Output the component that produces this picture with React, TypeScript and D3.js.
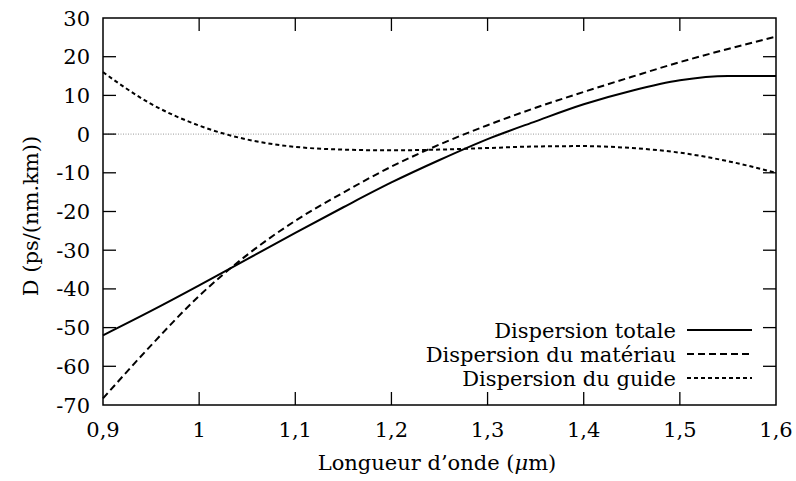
import React from "react";
import * as d3 from "d3";

const wavelengths = [0.9, 0.95, 1.0, 1.05, 1.1, 1.15, 1.2, 1.25, 1.3, 1.35, 1.4, 1.45, 1.5, 1.55, 1.6];
const totalDisp = [-52, -45.7, -39.1, -32.3, -25.5, -18.9, -12.5, -6.7, -1.3, 3.3, 7.7, 11.2, 13.9, 15, 15];
const materialDisp = [-68.3, -54.6, -41.8, -31.2, -22.4, -15.1, -8.4, -2.7, 2.3, 6.8, 10.9, 14.8, 18.6, 22, 25.2];
const guideDisp = [16, 7.8, 2.2, -1.4, -3.3, -4.0, -4.2, -4.0, -3.6, -3.2, -3.1, -3.6, -4.8, -7.0, -10];

const xTicks = [0.9, 1.0, 1.1, 1.2, 1.3, 1.4, 1.5, 1.6];
const yTicks = [30, 20, 10, 0, -10, -20, -30, -40, -50, -60, -70];
const seriesNames = ["Dispersion totale", "Dispersion du matériau", "Dispersion du guide"];

const W = 796, H = 481;
const L = 103, R = 776, T = 18, B = 405;
const FONT = "DejaVu Serif";

export default function App() {
  const x = d3.scaleLinear().domain([0.9, 1.6]).range([L, R]);
  const y = d3.scaleLinear().domain([-70, 30]).range([B, T]);
  const line = d3
    .line<number>()
    .x((_, i) => x(wavelengths[i]))
    .y((v) => y(v))
    .curve(d3.curveMonotoneX);
  const series = [
    { data: totalDisp, dash: "none" },
    { data: materialDisp, dash: "7,4" },
    { data: guideDisp, dash: "4,3" },
  ];
  const fmt = (v: number) => (Number.isInteger(v) ? String(v) : v.toFixed(1).replace(".", ","));
  const tick = 13;
  const fs = 21;
  return (
    <svg width={W} height={H} style={{ position: "absolute", left: 0, top: 0, background: "#fff" }}>
      <rect x={0} y={0} width={W} height={H} fill="#fff" />
      <line x1={L} x2={R} y1={y(0)} y2={y(0)} stroke="#999" strokeWidth={1} strokeDasharray="1,1.5" />
      {yTicks.map((v) => (
        <g key={"y" + v}>
          {v !== 30 && v !== -70 && (
            <>
              <line x1={L} x2={L + tick} y1={y(v)} y2={y(v)} stroke="#000" strokeWidth={1.3} />
              <line x1={R} x2={R - tick} y1={y(v)} y2={y(v)} stroke="#000" strokeWidth={1.3} />
            </>
          )}
          <text x={90} y={y(v) + 7.5} textAnchor="end" fontFamily={FONT} fontSize={fs} fill="#000">
            {v}
          </text>
        </g>
      ))}
      {xTicks.map((v) => (
        <g key={"x" + v}>
          {v !== 0.9 && v !== 1.6 && (
            <>
              <line x1={x(v)} x2={x(v)} y1={B} y2={B - tick} stroke="#000" strokeWidth={1.3} />
              <line x1={x(v)} x2={x(v)} y1={T} y2={T + tick} stroke="#000" strokeWidth={1.3} />
            </>
          )}
          <text x={x(v)} y={437} textAnchor="middle" fontFamily={FONT} fontSize={fs} fill="#000">
            {fmt(v)}
          </text>
        </g>
      ))}
      {series.map((s, i) => (
        <path key={i} d={line(s.data) || ""} fill="none" stroke="#000" strokeWidth={2} strokeDasharray={s.dash} />
      ))}
      <rect x={L} y={T} width={R - L} height={B - T} fill="none" stroke="#000" strokeWidth={1.5} />
      {seriesNames.map((n, i) => {
        const yy = 330 + i * 24;
        return (
          <g key={n}>
            <text x={676} y={yy + 7.5} textAnchor="end" fontFamily={FONT} fontSize={fs} fill="#000">
              {n}
            </text>
            <line x1={687} x2={752} y1={yy} y2={yy} stroke="#000" strokeWidth={2} strokeDasharray={series[i].dash} />
          </g>
        );
      })}
      <text x={437} y={470} textAnchor="middle" fontFamily={FONT} fontSize={fs} fill="#000">
        Longueur d’onde (<tspan fontStyle="italic">μ</tspan>m)
      </text>
      <text
        transform={`translate(38,216) rotate(-90)`}
        textAnchor="middle"
        fontFamily={FONT}
        fontSize={fs}
        fill="#000"
      >
        D (ps/(nm.km))
      </text>
    </svg>
  );
}
